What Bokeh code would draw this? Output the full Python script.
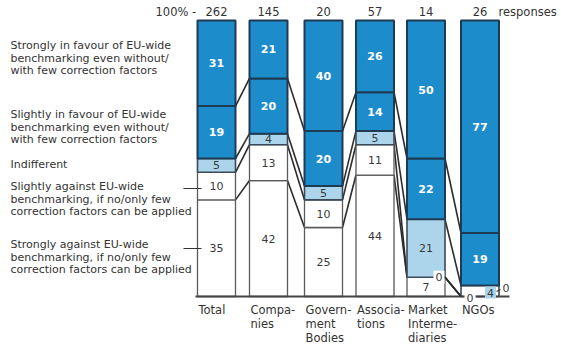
from bokeh.plotting import figure
from bokeh.models import Range1d, ColumnDataSource
from bokeh.core.properties import value
from bokeh.embed import file_html
from bokeh.resources import INLINE

# ---------------- data ----------------
groups = ["Total", "Companies", "Government Bodies", "Associations",
          "Market Intermediaries", "NGOs"]
group_lines = [["Total"], ["Compa-", "nies"], ["Govern-", "ment", "Bodies"],
               ["Associa-", "tions"], ["Market", "Interme-", "diaries"], ["NGOs"]]
responses = [262, 145, 20, 57, 14, 26]
strongly_against = [35, 42, 25, 44, 7, 0]
slightly_against = [10, 13, 10, 11, 0, 0]
indifferent = [5, 4, 5, 5, 21, 4]
slightly_favour = [19, 20, 20, 14, 22, 19]
strongly_favour = [31, 21, 40, 26, 50, 77]
series = [strongly_against, slightly_against, indifferent, slightly_favour, strongly_favour]
series_names = [
    ["Strongly against EU-wide", "benchmarking, if no/only few", "correction factors can be applied"],
    ["Slightly against EU-wide", "benchmarking, if no/only few", "correction factors can be applied"],
    ["Indifferent"],
    ["Slightly in favour of EU-wide", "benchmarking even without/", "with few correction factors"],
    ["Strongly in favour of EU-wide", "benchmarking even without/", "with few correction factors"],
]

# ---------------- layout / style ----------------
PX0 = 2          # page x/y of the figure's top-left corner
W, H = 557, 345
BASE_Y = 298.0
TOP_Y = 22.0
K = (BASE_Y - TOP_Y) / 100.0


def py(page_y):
    return (BASE_Y - page_y) / K


BLUE = "#1d8ccb"
LIGHT = "#acd5ec"
fills = ["white", "white", LIGHT, BLUE, BLUE]
edge = ["#5a5a5a", "#5a5a5a", "#3a4a58", "#1d3b52", "#1d3b52"]
edge_w = [1.3, 1.3, 1.6, 2.0, 2.0]
txt_col = ["#3a3a3a", "#3a3a3a", "#3a3a3a", "white", "white"]
txt_style = ["normal", "normal", "normal", "bold", "bold"]
centers = [218, 270, 325, 376.5, 427.5, 481.5]
BW = 38
FONT = value("DejaVu Sans")
TXT = "#333333"
mi, ni = 4, 5
special = {(ni, 2)}

p = figure(width=W, height=H, x_range=Range1d(PX0, PX0 + W),
           y_range=Range1d(py(PX0 + H), py(PX0)),
           output_backend="svg", toolbar_location=None, min_border=0,
           x_axis_location=None, y_axis_location=None)
p.grid.visible = False
p.outline_line_color = None
p.background_fill_color = "white"

# segments
quads = dict(left=[], right=[], bottom=[], top=[], fill=[], line=[], lw=[])
labs = dict(x=[], y=[], text=[], color=[], style=[])
cums = []
for i, c in enumerate(centers):
    cum = 0
    bounds = []
    for k, s in enumerate(series):
        v = s[i]
        b, t = cum, cum + v
        cum = t
        bounds.append(t)
        if v > 0:
            quads["left"].append(c - BW / 2)
            quads["right"].append(c + BW / 2)
            quads["bottom"].append(b)
            quads["top"].append(t)
            quads["fill"].append(fills[k] if (i, k) not in special else "white")
            quads["line"].append(edge[k])
            quads["lw"].append(edge_w[k])
            if (i, k) not in special:
                labs["x"].append(c)
                labs["y"].append((b + t) / 2)
                labs["text"].append(str(v))
                labs["color"].append(txt_col[k])
                labs["style"].append(txt_style[k])
    cums.append(bounds)

# connectors between bars
cx0, cy0, cx1, cy1 = [], [], [], []
for i in range(len(centers) - 1):
    for k in range(len(series) - 1):
        cx0.append(centers[i] + BW / 2)
        cy0.append(cums[i][k])
        cx1.append(centers[i + 1] - BW / 2)
        cy1.append(cums[i + 1][k])
p.segment(cx0, cy0, cx1, cy1, line_color="#2c2c2c", line_width=1.6)

p.quad(source=ColumnDataSource(quads), left="left", right="right", bottom="bottom",
       top="top", fill_color="fill", line_color="line", line_width="lw")

p.text(source=ColumnDataSource(labs), x="x", y="y", text="text", text_color="color",
       text_font_style="style", text_font=FONT, text_font_size="11px",
       text_align="center", text_baseline="middle")

# baseline
p.segment([197], [0], [511], [0], line_color="#444444", line_width=2)

# zero labels (market slightly against, NGO bottom)
zx = [centers[mi] + BW / 2 - 6, centers[ni] - BW / 2 + 9, centers[ni] + BW / 2 + 7]
zy = [cums[mi][0], py(299), py(289)]
p.rect(zx[:2], zy[:2], width=11, height=13 / K, fill_color="white", line_color=None)
p.rect([centers[ni] + 10.5], [py(294)], width=11, height=12 / K, fill_color=LIGHT,
       line_color=None)
p.text(zx, zy, text=[str(slightly_against[mi]), str(strongly_against[ni]),
                     str(slightly_against[ni])],
       text_color="#3a3a3a", text_font=FONT, text_font_size="11px",
       text_align="center", text_baseline="middle")
p.text([centers[ni] + 10.5], [py(294)], text=[str(indifferent[ni])], text_color="#3a3a3a",
       text_font=FONT, text_font_size="11px", text_align="center", text_baseline="middle")
p.segment([479, 498], [py(298), py(293)], [484, 502], [py(298), py(291)],
          line_color="#3a3a3a", line_width=1.2)
p.segment([centers[mi] + BW / 2], [cums[mi][0]], [centers[ni] - BW / 2], [0],
          line_color="#2c2c2c", line_width=1.6)

# response counts
p.text(centers, [py(13)] * len(centers), text=[str(r) for r in responses],
       text_color=TXT, text_font=FONT, text_font_size="11.5px",
       text_align="center", text_baseline="middle")
p.text([157], [py(13)], text=["100% -"], text_color=TXT, text_font=FONT,
       text_font_size="11.5px", text_align="left", text_baseline="middle")
p.text([500], [py(13)], text=["responses"], text_color=TXT, text_font=FONT,
       text_font_size="11.5px", text_align="left", text_baseline="middle")

# group labels
gx, gy, gt = [], [], []
for i, lines in enumerate(group_lines):
    for j, t in enumerate(lines):
        gx.append(centers[i] - BW / 2 + 1)
        gy.append(py(311 + 14 * j))
        gt.append(t)
p.text(gx, gy, text=gt, text_color=TXT, text_font=FONT, text_font_size="11.5px",
       text_align="left", text_baseline="middle")

# series labels on the left
first_line_y = [246, 188, 166, 116, 47]
sx, sy, st = [], [], []
for k, lines in enumerate(series_names):
    for j, t in enumerate(lines):
        sx.append(12)
        sy.append(py(first_line_y[k] + 12.5 * j))
        st.append(t)
p.text(sx, sy, text=st, text_color=TXT, text_font=FONT, text_font_size="11px",
       text_align="left", text_baseline="middle")

# pointer ticks
p.segment([185, 185], [py(190), py(250)], [203, 203], [py(190), py(250)],
          line_color="#333333", line_width=1.2)

open("out.html", "w").write(file_html(p, INLINE))
